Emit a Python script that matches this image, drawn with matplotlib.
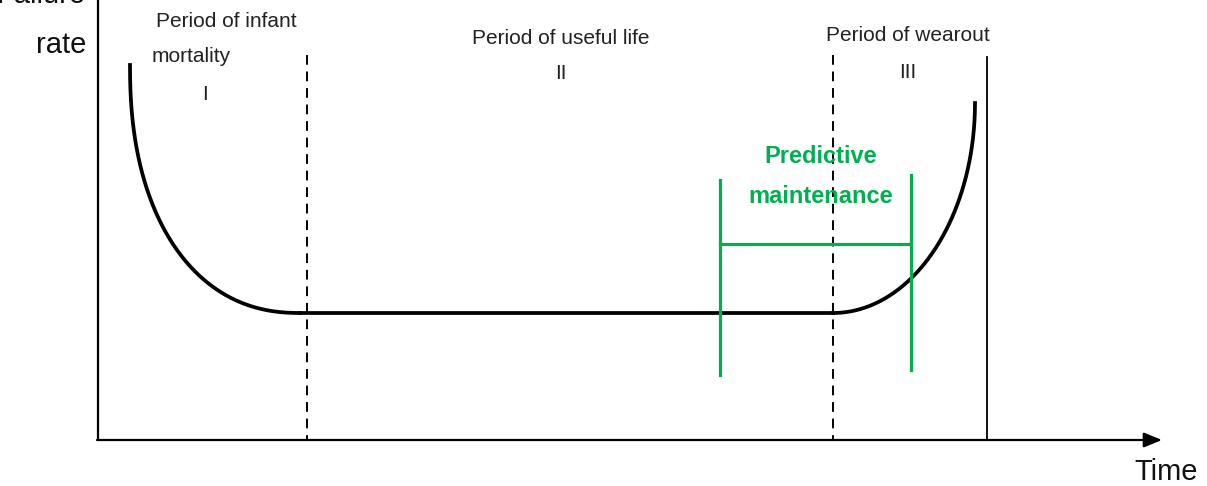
import numpy as np
import matplotlib
matplotlib.use("Agg")
import matplotlib.pyplot as plt

plt.rcParams['font.family'] = ['Liberation Sans', 'DejaVu Sans']

# ---- data (diagram coordinates, pixel-like units; y grows downward) ----
period_titles = ["Period of infant", "Period of useful life", "Period of wearout"]
period_numerals = ["I", "II", "III"]
phase_boundaries = [307, 833]          # dashed separators on the time axis
end_of_life = 987                       # solid vertical line
# bathtub curve: infant-mortality arc, flat useful life, wear-out arc
infant_start = (130, 65)
useful_start = (300, 313)
useful_end = (833, 313)
wearout_end = (975, 103)
infant_shape = 2.25                     # superellipse exponents of the arcs
wearout_shape = 2.0
# predictive-maintenance window
pm_window = [720, 911]
pm_bracket_y = 244
pm_label = ["Predictive", "maintenance"]
green = "#00b050"

fig = plt.figure(figsize=(12.07, 4.86), dpi=100)
ax = fig.add_axes([0, 0, 1, 1])
ax.set_xlim(0, 1207)
ax.set_ylim(486, 0)
ax.axis("off")

# axes
ax.plot([98, 98], [0, 440], color="black", lw=1.6, solid_capstyle="butt")
ax.annotate("", xy=(1162, 440), xytext=(97, 440),
            arrowprops=dict(arrowstyle="-|>,head_length=1.1,head_width=0.45",
                            color="black", lw=1.6, shrinkA=0, shrinkB=0))
ax.text(86, 3, "Failure", fontsize=21, ha="right", va="baseline", color="#111111")
ax.text(86, 53, "rate", fontsize=21, ha="right", va="baseline", color="#111111")
ax.text(1166, 480, "Time", fontsize=21, ha="center", va="baseline", color="#111111")

# dashed separators and end line
for xb in phase_boundaries:
    ax.plot([xb, xb], [55, 440], color="black", lw=1.4, ls=(0, (5, 3.5)))
ax.plot([end_of_life, end_of_life], [57, 440], color="black", lw=1.3)

# bathtub curve
t = np.linspace(0, np.pi / 2, 300)
x0, y0 = infant_start
x1, y1 = useful_start
e = 2.0 / infant_shape
ax.plot(x1 - (x1 - x0) * np.cos(t) ** e, y0 + (y1 - y0) * np.sin(t) ** e,
        color="black", lw=2.7)
ax.plot([useful_start[0], useful_end[0]], [useful_start[1], useful_end[1]],
        color="black", lw=2.7)
x2, y2 = useful_end
x3, y3 = wearout_end
e = 2.0 / wearout_shape
ax.plot(x2 + (x3 - x2) * np.sin(t) ** e, y3 + (y2 - y3) * np.cos(t) ** e,
        color="black", lw=2.7)

# period labels
fs = 15
tc = "#222222"
ax.text(226, 27, period_titles[0], fontsize=fs, ha="center", va="baseline", color=tc)
ax.text(152, 62, "mortality", fontsize=fs, ha="left", va="baseline", color=tc)
ax.text(205, 100, period_numerals[0], fontsize=fs, ha="center", va="baseline", color=tc)
ax.text(561, 44, period_titles[1], fontsize=fs, ha="center", va="baseline", color=tc)
ax.text(561, 79, period_numerals[1], fontsize=fs, ha="center", va="baseline", color=tc)
ax.text(908, 41, period_titles[2], fontsize=fs, ha="center", va="baseline", color=tc)
ax.text(908, 78, period_numerals[2], fontsize=fs, ha="center", va="baseline", color=tc)

# predictive maintenance window
ax.plot([pm_window[0], pm_window[0]], [180, 375], color=green, lw=2.3)
ax.plot([pm_window[1], pm_window[1]], [175, 370], color=green, lw=2.3)
ax.plot(pm_window, [pm_bracket_y, pm_bracket_y], color=green, lw=2.3)
ax.text(821, 163, pm_label[0], fontsize=17, fontweight="bold", ha="center",
        va="baseline", color=green)
ax.text(821, 203, pm_label[1], fontsize=17, fontweight="bold", ha="center",
        va="baseline", color=green)

fig.savefig("out.png", dpi=100)
